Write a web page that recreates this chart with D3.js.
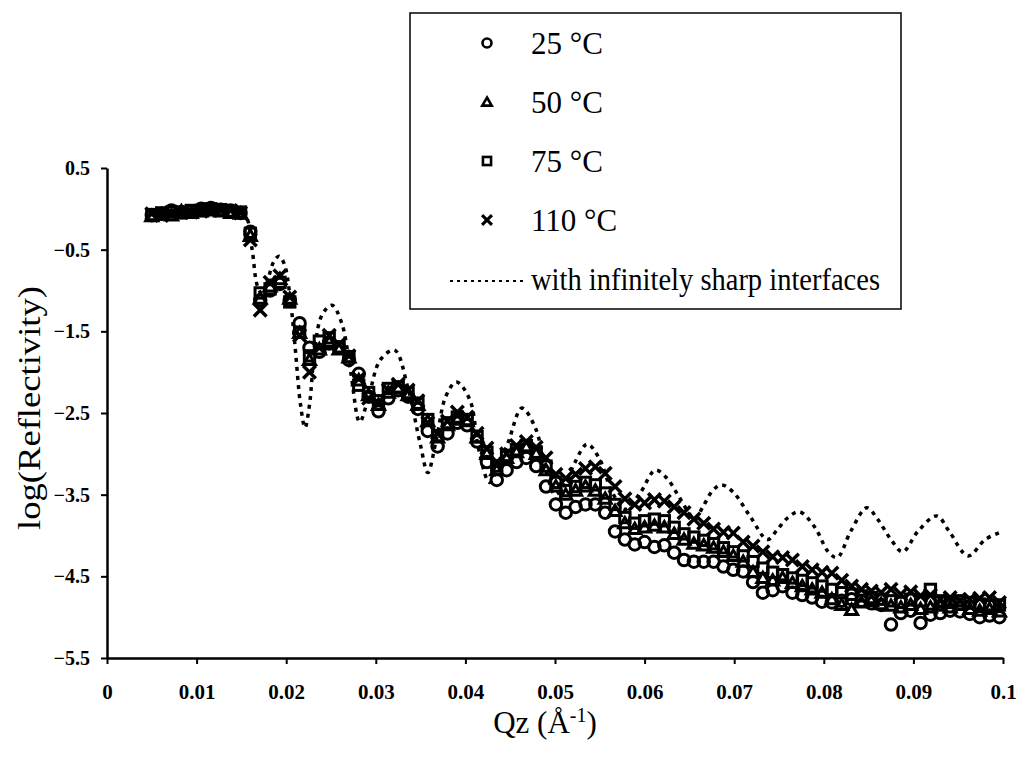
<!DOCTYPE html>
<html>
<head>
<meta charset="utf-8">
<script src="https://cdn.jsdelivr.net/npm/d3@7"></script>
<style>
  body { margin: 0; background: #fff; }
  text { font-family: "Liberation Serif", "Times New Roman", serif; fill: #000; }
</style>
</head>
<body>
<script>
// Qz values shared by the four measured series
const qz = [0.0050, 0.0061, 0.0072, 0.0083, 0.0094, 0.0105, 0.0116, 0.0127, 0.0138, 0.0149,
  0.0160, 0.0171, 0.0182, 0.0193, 0.0204, 0.0215, 0.0226, 0.0237, 0.0248, 0.0259,
  0.0270, 0.0281, 0.0292, 0.0303, 0.0314, 0.0325, 0.0336, 0.0347, 0.0358, 0.0369,
  0.0380, 0.0391, 0.0402, 0.0413, 0.0424, 0.0435, 0.0446, 0.0457, 0.0468, 0.0479,
  0.0490, 0.0501, 0.0512, 0.0523, 0.0534, 0.0545, 0.0556, 0.0567, 0.0578, 0.0589,
  0.0600, 0.0611, 0.0622, 0.0633, 0.0644, 0.0655, 0.0666, 0.0677, 0.0688, 0.0699,
  0.0710, 0.0721, 0.0732, 0.0743, 0.0754, 0.0765, 0.0776, 0.0787, 0.0798, 0.0809,
  0.0820, 0.0831, 0.0842, 0.0853, 0.0864, 0.0875, 0.0886, 0.0897, 0.0908, 0.0919,
  0.0930, 0.0941, 0.0952, 0.0963, 0.0974, 0.0985, 0.0996];

// log(Reflectivity) at 25, 50, 75 and 110 °C
const r25 = [-0.08, -0.06, -0.02, -0.04, -0.03, 0.00, 0.01, -0.01, -0.02, -0.05,
  -0.28, -1.12, -1.00, -0.92, -1.12, -1.40, -1.70, -1.75, -1.65, -1.70,
  -1.85, -2.02, -2.30, -2.48, -2.32, -2.22, -2.30, -2.45, -2.72, -2.91,
  -2.75, -2.62, -2.65, -2.85, -3.10, -3.32, -3.20, -3.10, -3.05, -3.15,
  -3.40, -3.62, -3.72, -3.65, -3.62, -3.62, -3.72, -3.95, -4.05, -4.11,
  -4.08, -4.14, -4.12, -4.21, -4.30, -4.32, -4.32, -4.32, -4.38, -4.42,
  -4.44, -4.57, -4.70, -4.67, -4.62, -4.70, -4.73, -4.76, -4.81, -4.82,
  -4.80, -4.78, -4.80, -4.83, -4.85, -5.09, -4.95, -4.92, -5.07, -4.97,
  -4.95, -4.92, -4.93, -4.96, -5.00, -4.98, -5.00];
const r50 = [-0.09, -0.07, -0.08, -0.03, -0.05, -0.03, -0.02, -0.03, -0.05, -0.06,
  -0.33, -1.10, -0.95, -0.86, -1.10, -1.52, -1.85, -1.72, -1.63, -1.72,
  -1.82, -2.10, -2.28, -2.40, -2.25, -2.20, -2.28, -2.40, -2.60, -2.80,
  -2.65, -2.58, -2.60, -2.80, -3.00, -3.20, -3.05, -2.98, -2.92, -3.00,
  -3.20, -3.40, -3.50, -3.45, -3.40, -3.45, -3.55, -3.70, -3.85, -3.92,
  -3.90, -3.88, -3.90, -3.98, -4.05, -4.10, -4.12, -4.15, -4.20, -4.25,
  -4.32, -4.45, -4.52, -4.55, -4.52, -4.58, -4.62, -4.66, -4.70, -4.78,
  -4.85, -4.91, -4.82, -4.80, -4.84, -4.86, -4.88, -4.85, -4.90, -4.88,
  -4.86, -4.88, -4.85, -4.90, -4.92, -4.90, -4.93];
const r75 = [-0.07, -0.05, -0.04, -0.05, -0.02, -0.02, 0.00, -0.01, -0.03, -0.04,
  -0.30, -1.03, -0.98, -0.90, -1.14, -1.51, -1.80, -1.62, -1.58, -1.69,
  -1.81, -2.16, -2.25, -2.35, -2.20, -2.18, -2.25, -2.38, -2.58, -2.78,
  -2.62, -2.55, -2.58, -2.79, -2.98, -3.15, -3.02, -2.95, -2.90, -2.98,
  -3.15, -3.35, -3.45, -3.40, -3.35, -3.38, -3.48, -3.62, -3.78, -3.85,
  -3.82, -3.80, -3.82, -3.90, -3.98, -4.02, -4.06, -4.10, -4.15, -4.20,
  -4.25, -4.32, -4.40, -4.45, -4.48, -4.52, -4.55, -4.58, -4.62, -4.66,
  -4.70, -4.72, -4.74, -4.76, -4.78, -4.80, -4.82, -4.78, -4.80, -4.66,
  -4.80, -4.82, -4.80, -4.82, -4.84, -4.86, -4.85];
const r110 = [-0.06, -0.08, -0.05, -0.04, -0.04, -0.03, -0.01, -0.02, -0.02, -0.05,
  -0.38, -1.24, -0.90, -0.82, -1.08, -1.55, -2.00, -1.70, -1.55, -1.66,
  -1.80, -2.08, -2.32, -2.38, -2.22, -2.15, -2.22, -2.35, -2.62, -2.75,
  -2.60, -2.49, -2.55, -2.75, -2.93, -3.10, -3.00, -2.90, -2.85, -2.92,
  -3.05, -3.25, -3.30, -3.25, -3.18, -3.16, -3.24, -3.40, -3.55, -3.62,
  -3.60, -3.56, -3.58, -3.65, -3.72, -3.80, -3.85, -3.92, -3.96, -3.97,
  -4.08, -4.13, -4.20, -4.26, -4.27, -4.30, -4.38, -4.42, -4.45, -4.46,
  -4.55, -4.62, -4.66, -4.68, -4.70, -4.66, -4.72, -4.69, -4.74, -4.73,
  -4.78, -4.76, -4.80, -4.78, -4.77, -4.76, -4.82];

// calculated curve with infinitely sharp interfaces
const sharpQ = [0.0050, 0.0100, 0.0140, 0.0155, 0.0162, 0.0168, 0.0174, 0.0180, 0.0186, 0.0192,
  0.0198, 0.0204, 0.0210, 0.0216, 0.0221, 0.0226, 0.0232, 0.0240, 0.0251, 0.0262,
  0.0272, 0.0282, 0.0292, 0.0305, 0.0321, 0.0336, 0.0350, 0.0358, 0.0368, 0.0378,
  0.0390, 0.0405, 0.0415, 0.0427, 0.0440, 0.0448, 0.0463, 0.0478, 0.0490, 0.0500,
  0.0512, 0.0522, 0.0536, 0.0550, 0.0563, 0.0578, 0.0595, 0.0612, 0.0625, 0.0637,
  0.0648, 0.0656, 0.0665, 0.0676, 0.0686, 0.0699, 0.0718, 0.0737, 0.0748, 0.0760,
  0.0773, 0.0790, 0.0805, 0.0815, 0.0830, 0.0848, 0.0860, 0.0875, 0.0888, 0.0905,
  0.0926, 0.0940, 0.0961, 0.0980, 0.0997];
const sharpR = [-0.05, -0.02, -0.02, -0.10, -0.50, -0.95, -1.05, -0.85, -0.65, -0.58,
  -0.68, -1.05, -1.70, -2.40, -2.68, -2.40, -1.70, -1.30, -1.18, -1.40,
  -2.00, -2.61, -2.30, -1.85, -1.73, -2.20, -2.90, -3.23, -2.80, -2.30,
  -2.12, -2.34, -2.95, -3.35, -3.05, -2.85, -2.44, -2.68, -3.20, -3.50,
  -3.35, -3.11, -2.88, -3.07, -3.45, -3.68, -3.48, -3.20, -3.30, -3.50,
  -3.70, -3.80, -3.65, -3.45, -3.38, -3.47, -3.77, -4.05, -3.93, -3.78,
  -3.71, -3.90, -4.20, -4.27, -3.95, -3.66, -3.80, -4.05, -4.20, -3.95,
  -3.76, -3.95, -4.25, -4.05, -3.96];

const seriesNames = ["25 °C", "50 °C", "75 °C", "110 °C"];
const seriesShapes = ["circle", "triangle", "square", "cross"];
const seriesValues = [r25, r50, r75, r110];
const xTicks = [0, 0.01, 0.02, 0.03, 0.04, 0.05, 0.06, 0.07, 0.08, 0.09, 0.1];
const yTicks = [0.5, -0.5, -1.5, -2.5, -3.5, -4.5, -5.5];

const W = 1018, H = 760;
const svg = d3.select("body").append("svg").attr("width", W).attr("height", H);

const x = d3.scaleLinear().domain([0, 0.1]).range([107, 1003]);
const y = d3.scaleLinear().domain([-5.5, 0.5]).range([658, 168]);

// markers
function drawMarker(sel, shape, size, sw) {
  if (shape === "circle") {
    sel.append("circle").attr("r", size * 0.5).attr("fill", "none")
      .attr("stroke", "#000").attr("stroke-width", sw);
  } else if (shape === "triangle") {
    const h = size * 0.5;
    sel.append("path").attr("d", `M0,${-h}L${h * 1.05},${h * 0.8}L${-h * 1.05},${h * 0.8}Z`)
      .attr("fill", "none").attr("stroke", "#000").attr("stroke-width", sw)
      .attr("stroke-linejoin", "miter");
  } else if (shape === "square") {
    sel.append("rect").attr("x", -size * 0.45).attr("y", -size * 0.45)
      .attr("width", size * 0.9).attr("height", size * 0.9)
      .attr("fill", "none").attr("stroke", "#000").attr("stroke-width", sw);
  } else {
    const h = size * 0.55;
    sel.append("path").attr("d", `M${-h},${-h}L${h},${h}M${-h},${h}L${h},${-h}`)
      .attr("stroke", "#000").attr("stroke-width", sw + 0.5);
  }
}

const plot = svg.append("g");

seriesValues.forEach((vals, si) => {
  const g = plot.append("g").attr("class", "series-" + si);
  qz.forEach((q, i) => {
    const m = g.append("g").attr("transform", `translate(${x(q)},${y(vals[i])})`);
    drawMarker(m, seriesShapes[si], 11.5, 3);
  });
});

// dotted calculated curve
const line = d3.line()
  .x((d, i) => x(sharpQ[i]))
  .y(d => y(d))
  .curve(d3.curveCatmullRom.alpha(0.5));

plot.append("path")
  .datum(sharpR)
  .attr("d", line)
  .attr("fill", "none")
  .attr("stroke", "#000")
  .attr("stroke-width", 3.5)
  .attr("stroke-dasharray", "4,5");

// axes
const xAxis = d3.axisBottom(x).tickValues(xTicks).tickSize(6).tickSizeOuter(0)
  .tickFormat(d => d === 0 ? "0" : d3.format("")(+d.toFixed(2)));
const gx = svg.append("g").attr("transform", "translate(0,658)").call(xAxis);
gx.select(".domain").attr("stroke-width", 2.5);
gx.selectAll(".tick line").attr("stroke-width", 2);
gx.selectAll(".tick text").attr("y", 26)
  .style("font-size", "21px").style("font-weight", "bold")
  .style("font-family", "'Liberation Serif', serif");

const yAxis = d3.axisLeft(y).tickValues(yTicks).tickSize(6).tickSizeOuter(0)
  .tickFormat(d3.format(".1f"));
const gy = svg.append("g").attr("transform", "translate(107,0)").call(yAxis);
gy.select(".domain").attr("stroke-width", 2.5);
gy.selectAll(".tick line").attr("stroke-width", 2);
gy.selectAll(".tick text").attr("x", -17)
  .style("font-size", "20px").style("font-weight", "bold")
  .style("font-family", "'Liberation Serif', serif");

// axis titles
svg.append("text")
  .attr("transform", "translate(40,408) rotate(-90)")
  .attr("text-anchor", "middle")
  .style("font-size", "31px")
  .attr("textLength", 244)
  .attr("lengthAdjust", "spacingAndGlyphs")
  .text("log(Reflectivity)");

const xt = svg.append("text")
  .attr("x", 545).attr("y", 733)
  .attr("text-anchor", "middle")
  .style("font-size", "31px");
xt.append("tspan").text("Qz (Å");
xt.append("tspan").attr("dy", -11).style("font-size", "20px").text("-1");
xt.append("tspan").attr("dy", 11).text(")");

// legend
const legend = svg.append("g");
legend.append("rect")
  .attr("x", 410).attr("y", 13).attr("width", 491).attr("height", 296)
  .attr("fill", "#fff").attr("stroke", "#000").attr("stroke-width", 1.5);

const rowY = [43, 102, 161, 220, 279];
seriesNames.forEach((name, i) => {
  const m = legend.append("g").attr("transform", `translate(487,${rowY[i]})`);
  drawMarker(m, seriesShapes[i], 9, 2.6);
  legend.append("text")
    .attr("x", 531).attr("y", rowY[i] + 11)
    .style("font-size", "31px")
    .text(name);
});

legend.append("line")
  .attr("x1", 450).attr("x2", 525)
  .attr("y1", rowY[4] + 2).attr("y2", rowY[4] + 2)
  .attr("stroke", "#000").attr("stroke-width", 2.2)
  .attr("stroke-dasharray", "3,4");
legend.append("text")
  .attr("x", 531).attr("y", rowY[4] + 11)
  .style("font-size", "31px")
  .attr("textLength", 349)
  .attr("lengthAdjust", "spacingAndGlyphs")
  .text("with infinitely sharp interfaces");
</script>
</body>
</html>
